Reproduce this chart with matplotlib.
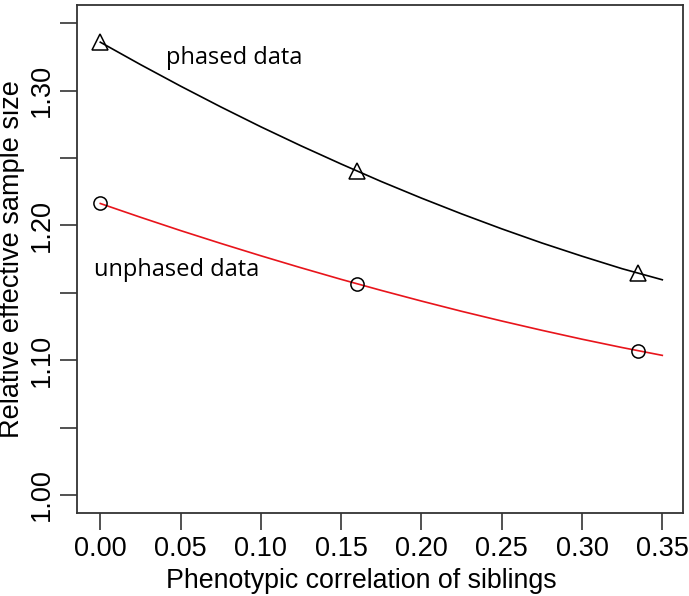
import matplotlib
matplotlib.use("Agg")
import matplotlib.pyplot as plt

# Observed points
point_x = [0.0, 0.16, 0.335]
phased_pts = [1.336, 1.2403, 1.1644]
unphased_pts = [1.2163, 1.1567, 1.107]

# Fitted curves
curve_x = [0.0, 0.025, 0.05, 0.075, 0.10, 0.125, 0.15, 0.175, 0.20,
           0.225, 0.25, 0.275, 0.30, 0.325, 0.35]
phased_curve = [1.336, 1.3194, 1.3034, 1.2880, 1.2732, 1.2591, 1.2456, 1.2326,
                1.2203, 1.2086, 1.1975, 1.1870, 1.1772, 1.1679, 1.1597]
unphased_curve = [1.2163, 1.2061, 1.1962, 1.1867, 1.1775, 1.1686, 1.1600, 1.1518,
                  1.1439, 1.1363, 1.1291, 1.1222, 1.1156, 1.1094, 1.1036]

xticks = [0.00, 0.05, 0.10, 0.15, 0.20, 0.25, 0.30, 0.35]
xticklabels = ["0.00", "0.05", "0.10", "0.15", "0.20", "0.25", "0.30", "0.35"]
yticks = [1.00, 1.05, 1.10, 1.15, 1.20, 1.25, 1.30, 1.35]
yticklabels = ["1.00", "", "1.10", "", "1.20", "", "1.30", ""]

W, H = 689, 596
fig = plt.figure(figsize=(W / 100, H / 100), dpi=100)
L, R, T, B = 76.7, 683.0, 5.0, 513.3
ax = fig.add_axes([L / W, 1 - B / H, (R - L) / W, (B - T) / H])

ax.plot(curve_x, phased_curve, color="black", lw=1.2)
ax.plot(curve_x, unphased_curve, color="#e8141b", lw=1.2)
ax.plot(point_x, phased_pts, linestyle="none", marker="^", markersize=11,
        markerfacecolor="none", markeredgecolor="black", markeredgewidth=1.1)
ax.plot(point_x, unphased_pts, linestyle="none", marker="o", markersize=9.5,
        markerfacecolor="none", markeredgecolor="black", markeredgewidth=1.1)

ax.text(0.0833, 1.3243, "phased data", fontsize=17, family="Open Sans",
        ha="center", va="center")
ax.text(0.0478, 1.167, "unphased data", fontsize=17, family="Open Sans",
        ha="center", va="center")

ax.set_xlim(-0.0147, 0.3629)
ax.set_ylim(0.9864, 1.3636)
ax.set_xticks(xticks)
ax.set_xticklabels(xticklabels, family="Liberation Sans", fontsize=19.5)
ax.set_yticks(yticks)
ax.set_yticklabels(yticklabels, family="Liberation Sans", fontsize=19.5)
for lab in ax.get_yticklabels():
    lab.set_rotation(90)
    lab.set_va("center")
    lab.set_ha("right")

ax.tick_params(axis="both", direction="out", length=12, width=1.1,
               color="#222222", pad=4)
for s in ax.spines.values():
    s.set_linewidth(1.3)
    s.set_color("#333333")

fig.text(361 / W, 1 - 594 / H, "Phenotypic correlation of siblings",
         family="Liberation Sans", fontsize=19.3, ha="center", va="bottom")
fig.text(12 / W, 1 - 259 / H, "Relative effective sample size",
         family="Liberation Sans", fontsize=19.5, ha="center", va="center",
         rotation=90)

fig.savefig("out.png", dpi=100)
